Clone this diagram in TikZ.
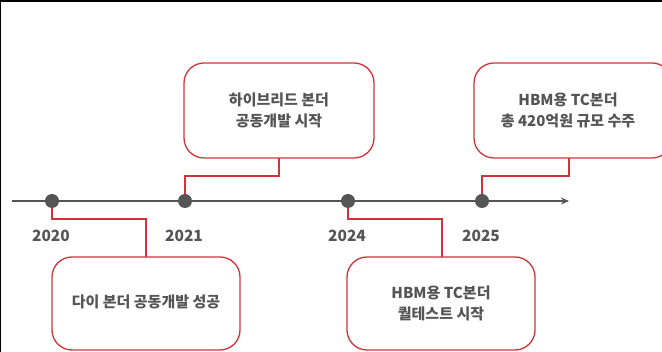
\documentclass[tikz,border=0pt]{standalone}
\usepackage{fontspec}
\setmainfont{Noto Sans CJK KR}
\usetikzlibrary{arrows.meta}
\definecolor{tgray}{HTML}{555555}
\definecolor{tred}{HTML}{D0343A}
\begin{document}
\begin{tikzpicture}[x=1pt,y=-1pt,
  evbox/.style={draw=tred,line width=1.3pt,rounded corners=20pt,fill=white},
  evtext/.style={text=tgray,font=\fontsize{15}{21}\selectfont\bfseries,align=center},
  yeartext/.style={text=tgray,font=\fontsize{15.5}{16}\selectfont\bfseries},
  dot/.style={circle,fill=tgray,inner sep=0pt,minimum size=14pt},
  link/.style={draw=tred,line width=1.1pt}]
\useasboundingbox (0,0) rectangle (662,352);
\fill[black] (0,0) rectangle (662,2);
\fill[black] (0,0) rectangle (1.2,352);
% timeline
\coordinate (tlstart) at (12,201);
\coordinate (tlend) at (569,201);
\draw[tgray,line width=2pt,-{Stealth[length=8pt,width=7pt]}] (tlstart) -- (tlend);
\node[dot] (d1) at (52,201) {};
\node[dot] (d2) at (185,201) {};
\node[dot] (d3) at (348,201) {};
\node[dot] (d4) at (482,201) {};
\node[yeartext] (y1) at (51,236) {2020};
\node[yeartext] (y2) at (184,236) {2021};
\node[yeartext] (y3) at (347,236) {2024};
\node[yeartext] (y4) at (481,236) {2025};
% boxes
\draw[evbox] (52,257) rectangle (240,350);
\node[evtext] (b1) at (146,302) {다이 본더 공동개발 성공};
\coordinate (b1t) at (146,257);
\draw[evbox] (184,63) rectangle (374,158);
\node[evtext] (b2) at (279,110) {하이브리드 본더\\공동개발 시작};
\coordinate (b2b) at (279,158);
\draw[evbox] (347,257) rectangle (535,350);
\node[evtext] (b3) at (441,303) {HBM용 TC본더\\퀄테스트 시작};
\coordinate (b3t) at (442,257);
\draw[evbox] (474,63) rectangle (672,158);
\node[evtext] (b4) at (568,110) {HBM용 TC본더\\총 420억원 규모 수주};
\coordinate (b4b) at (569,158);
% connectors
\draw[link] (d1.south) |- (146,219) -- (b1t);
\draw[link] (d2.north) |- (279,176) -- (b2b);
\draw[link] (d3.south) |- (442,219) -- (b3t);
\draw[link] (d4.north) |- (569,176) -- (b4b);
\end{tikzpicture}
\end{document}
